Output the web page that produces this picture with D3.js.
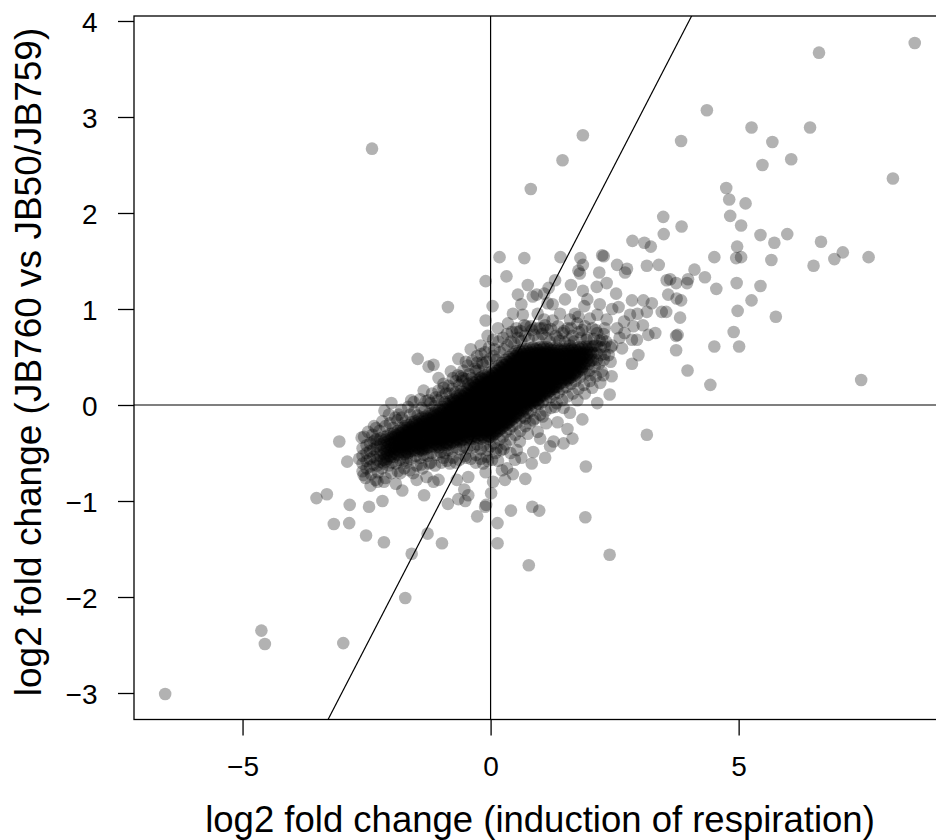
<!DOCTYPE html>
<html>
<head>
<meta charset="utf-8">
<script src="https://cdn.jsdelivr.net/npm/d3@7"></script>
<style>
  html, body { margin: 0; padding: 0; background: #fff; }
  svg { display: block; }
  text { font-family: "Liberation Sans", Arial, Helvetica, sans-serif; fill: #000; }
</style>
</head>
<body>
<svg id="chart" width="936" height="840"></svg>
<script>
// Genes in the dense central band: each row is [respiration log2FC, strain log2FC values...]
const coreBand = [
  [-2.58,-0.45,-0.53,-0.61,-0.69],
  [-2.50,-0.42,-0.50,-0.58,-0.66],
  [-2.43,-0.40,-0.48,-0.56,-0.64],
  [-2.36,-0.38,-0.46,-0.54,-0.62],
  [-2.29,-0.36,-0.43,-0.50,-0.57,-0.63],
  [-2.22,-0.35,-0.41,-0.47,-0.53,-0.59],
  [-2.15,-0.33,-0.39,-0.45,-0.51,-0.57,-0.61],
  [-2.08,-0.32,-0.38,-0.44,-0.50,-0.56],
  [-2.01,-0.30,-0.36,-0.42,-0.48,-0.54],
  [-1.94,-0.29,-0.34,-0.39,-0.44,-0.49,-0.54],
  [-1.87,-0.27,-0.32,-0.37,-0.42,-0.47,-0.52],
  [-1.80,-0.24,-0.29,-0.34,-0.39,-0.44,-0.49],
  [-1.73,-0.22,-0.27,-0.32,-0.37,-0.42,-0.47,-0.51],
  [-1.66,-0.21,-0.26,-0.31,-0.36,-0.41,-0.46,-0.50],
  [-1.59,-0.18,-0.23,-0.28,-0.33,-0.38,-0.43,-0.48],
  [-1.52,-0.17,-0.22,-0.27,-0.32,-0.37,-0.42,-0.47],
  [-1.45,-0.15,-0.20,-0.25,-0.30,-0.35,-0.40,-0.45,-0.48],
  [-1.38,-0.13,-0.18,-0.23,-0.28,-0.33,-0.38,-0.43,-0.47],
  [-1.31,-0.12,-0.17,-0.22,-0.27,-0.32,-0.37,-0.42,-0.46],
  [-1.24,-0.09,-0.14,-0.19,-0.24,-0.29,-0.34,-0.39,-0.44],
  [-1.17,-0.08,-0.13,-0.18,-0.23,-0.28,-0.33,-0.38,-0.43],
  [-1.10,-0.06,-0.11,-0.16,-0.21,-0.26,-0.31,-0.36,-0.41,-0.44],
  [-1.03,-0.04,-0.09,-0.14,-0.19,-0.24,-0.29,-0.34,-0.39,-0.44],
  [-0.96,-0.02,-0.07,-0.12,-0.17,-0.22,-0.27,-0.32,-0.37,-0.42],
  [-0.89,0.01,-0.04,-0.09,-0.14,-0.19,-0.24,-0.29,-0.34,-0.39,-0.42],
  [-0.82,0.04,-0.01,-0.06,-0.11,-0.16,-0.21,-0.26,-0.31,-0.36,-0.41],
  [-0.75,0.06,0.01,-0.04,-0.09,-0.14,-0.19,-0.24,-0.29,-0.34,-0.39],
  [-0.68,0.09,0.04,-0.01,-0.06,-0.11,-0.16,-0.21,-0.26,-0.31,-0.36,-0.38],
  [-0.61,0.11,0.06,0.01,-0.04,-0.09,-0.14,-0.19,-0.24,-0.29,-0.34,-0.38],
  [-0.54,0.14,0.09,0.04,-0.01,-0.06,-0.11,-0.16,-0.21,-0.26,-0.31,-0.36],
  [-0.47,0.17,0.12,0.07,0.02,-0.03,-0.08,-0.13,-0.18,-0.23,-0.28,-0.33,-0.36],
  [-0.40,0.20,0.15,0.10,0.05,0.00,-0.05,-0.10,-0.15,-0.20,-0.25,-0.30,-0.35],
  [-0.33,0.23,0.18,0.13,0.08,0.03,-0.02,-0.07,-0.12,-0.17,-0.22,-0.27,-0.32,-0.35],
  [-0.26,0.26,0.21,0.16,0.11,0.06,0.01,-0.04,-0.09,-0.14,-0.19,-0.24,-0.29,-0.34],
  [-0.19,0.29,0.24,0.19,0.14,0.09,0.04,-0.01,-0.06,-0.11,-0.16,-0.21,-0.26,-0.31,-0.35],
  [-0.12,0.31,0.26,0.21,0.16,0.11,0.06,0.01,-0.04,-0.09,-0.14,-0.19,-0.24,-0.29,-0.34],
  [-0.05,0.33,0.28,0.23,0.18,0.13,0.08,0.03,-0.02,-0.07,-0.12,-0.17,-0.22,-0.27,-0.32,-0.35],
  [0.02,0.35,0.30,0.25,0.20,0.15,0.10,0.05,0.00,-0.05,-0.10,-0.15,-0.20,-0.25,-0.30,-0.33],
  [0.09,0.38,0.33,0.28,0.23,0.18,0.13,0.08,0.03,-0.02,-0.07,-0.12,-0.17,-0.22,-0.27,-0.30],
  [0.16,0.41,0.36,0.31,0.26,0.21,0.16,0.11,0.06,0.01,-0.04,-0.09,-0.14,-0.19,-0.24,-0.27],
  [0.23,0.44,0.39,0.34,0.29,0.24,0.19,0.14,0.09,0.04,-0.01,-0.06,-0.11,-0.16,-0.21,-0.24],
  [0.30,0.47,0.42,0.37,0.32,0.27,0.22,0.17,0.12,0.07,0.02,-0.03,-0.08,-0.13,-0.18,-0.21],
  [0.37,0.50,0.45,0.40,0.35,0.30,0.25,0.20,0.15,0.10,0.05,0.00,-0.05,-0.10,-0.15,-0.18],
  [0.44,0.53,0.48,0.43,0.38,0.33,0.28,0.23,0.18,0.13,0.08,0.03,-0.02,-0.07,-0.12,-0.15],
  [0.51,0.56,0.51,0.46,0.41,0.36,0.31,0.26,0.21,0.16,0.11,0.06,0.01,-0.04,-0.09,-0.12],
  [0.58,0.57,0.52,0.47,0.42,0.37,0.32,0.27,0.22,0.17,0.12,0.07,0.02,-0.03,-0.08],
  [0.65,0.58,0.53,0.48,0.43,0.38,0.33,0.28,0.23,0.18,0.13,0.08,0.03,-0.02,-0.06],
  [0.72,0.58,0.53,0.48,0.43,0.38,0.33,0.28,0.23,0.18,0.13,0.08,0.03,-0.01,-0.04],
  [0.79,0.59,0.54,0.49,0.44,0.39,0.34,0.29,0.24,0.19,0.14,0.09,0.04,0.00],
  [0.86,0.60,0.55,0.50,0.45,0.40,0.35,0.30,0.25,0.20,0.15,0.10,0.05,0.02],
  [0.93,0.59,0.54,0.49,0.44,0.39,0.34,0.29,0.24,0.19,0.14,0.09,0.05],
  [1.00,0.60,0.55,0.50,0.45,0.40,0.35,0.30,0.25,0.20,0.15,0.10,0.08],
  [1.07,0.60,0.55,0.50,0.45,0.40,0.35,0.30,0.25,0.20,0.15,0.10],
  [1.14,0.60,0.55,0.50,0.45,0.40,0.35,0.30,0.25,0.20,0.15,0.12],
  [1.21,0.59,0.54,0.49,0.44,0.39,0.34,0.29,0.24,0.19,0.15],
  [1.28,0.59,0.54,0.49,0.44,0.39,0.34,0.29,0.24,0.19,0.17],
  [1.35,0.59,0.54,0.49,0.44,0.39,0.34,0.29,0.24,0.19],
  [1.42,0.58,0.53,0.48,0.43,0.38,0.33,0.28,0.23],
  [1.49,0.58,0.53,0.48,0.43,0.38,0.33,0.28,0.24],
  [1.56,0.58,0.53,0.48,0.43,0.38,0.33,0.28,0.26],
  [1.63,0.59,0.54,0.49,0.44,0.39,0.34,0.29],
  [1.70,0.59,0.54,0.49,0.44,0.39,0.34,0.31],
  [1.77,0.60,0.55,0.50,0.45,0.40,0.35],
  [1.84,0.60,0.55,0.50,0.45,0.40,0.37],
  [1.91,0.61,0.55,0.49,0.43],
  [1.98,0.61,0.55,0.49,0.43],
  [2.06,0.61,0.54,0.47],
  [2.14,0.62,0.54,0.47],
  [2.22,0.60,0.52],
  [2.30,0.61,0.53]
];

// The most crowded part of the band, between the rows above
const coreBandInner = [
  [-2.115,-0.36,-0.42,-0.48,-0.54,-0.59],
  [-2.045,-0.35,-0.41,-0.47,-0.53],
  [-1.975,-0.33,-0.39,-0.45,-0.51],
  [-1.905,-0.31,-0.36,-0.41,-0.46,-0.51],
  [-1.835,-0.29,-0.34,-0.39,-0.44,-0.49],
  [-1.765,-0.26,-0.31,-0.36,-0.41,-0.46],
  [-1.695,-0.24,-0.29,-0.34,-0.39,-0.44,-0.49],
  [-1.625,-0.23,-0.28,-0.33,-0.38,-0.43,-0.48],
  [-1.555,-0.20,-0.25,-0.30,-0.35,-0.40,-0.45],
  [-1.485,-0.19,-0.24,-0.29,-0.34,-0.39,-0.44],
  [-1.415,-0.17,-0.22,-0.27,-0.32,-0.37,-0.42,-0.46],
  [-1.345,-0.15,-0.20,-0.25,-0.30,-0.35,-0.40,-0.45],
  [-1.275,-0.14,-0.19,-0.24,-0.29,-0.34,-0.39,-0.44],
  [-1.205,-0.11,-0.16,-0.21,-0.26,-0.31,-0.36,-0.41],
  [-1.135,-0.10,-0.15,-0.20,-0.25,-0.30,-0.35,-0.40],
  [-1.065,-0.08,-0.13,-0.18,-0.23,-0.28,-0.33,-0.38,-0.42],
  [-0.995,-0.06,-0.11,-0.16,-0.21,-0.26,-0.31,-0.36,-0.41],
  [-0.925,-0.04,-0.09,-0.14,-0.19,-0.24,-0.29,-0.34,-0.39],
  [-0.855,-0.01,-0.06,-0.11,-0.16,-0.21,-0.26,-0.31,-0.36,-0.40],
  [-0.785,0.02,-0.03,-0.08,-0.13,-0.18,-0.23,-0.28,-0.33,-0.38],
  [-0.715,0.04,-0.01,-0.06,-0.11,-0.16,-0.21,-0.26,-0.31,-0.36],
  [-0.645,0.07,0.02,-0.03,-0.08,-0.13,-0.18,-0.23,-0.28,-0.33,-0.36],
  [-0.575,0.09,0.04,-0.01,-0.06,-0.11,-0.16,-0.21,-0.26,-0.31,-0.36],
  [-0.505,0.12,0.07,0.02,-0.03,-0.08,-0.13,-0.18,-0.23,-0.28,-0.33],
  [-0.435,0.15,0.10,0.05,0.00,-0.05,-0.10,-0.15,-0.20,-0.25,-0.30,-0.34],
  [-0.365,0.18,0.13,0.08,0.03,-0.02,-0.07,-0.12,-0.17,-0.22,-0.27,-0.32],
  [-0.295,0.21,0.16,0.11,0.06,0.01,-0.04,-0.09,-0.14,-0.19,-0.24,-0.29,-0.33],
  [-0.225,0.24,0.19,0.14,0.09,0.04,-0.01,-0.06,-0.11,-0.16,-0.21,-0.26,-0.31],
  [-0.155,0.27,0.22,0.17,0.12,0.07,0.02,-0.03,-0.08,-0.13,-0.18,-0.23,-0.28,-0.33],
  [-0.085,0.29,0.24,0.19,0.14,0.09,0.04,-0.01,-0.06,-0.11,-0.16,-0.21,-0.26,-0.31],
  [-0.015,0.31,0.26,0.21,0.16,0.11,0.06,0.01,-0.04,-0.09,-0.14,-0.19,-0.24,-0.29,-0.33],
  [0.055,0.33,0.28,0.23,0.18,0.13,0.08,0.03,-0.02,-0.07,-0.12,-0.17,-0.22,-0.27,-0.31],
  [0.125,0.36,0.31,0.26,0.21,0.16,0.11,0.06,0.01,-0.04,-0.09,-0.14,-0.19,-0.24,-0.28],
  [0.195,0.39,0.34,0.29,0.24,0.19,0.14,0.09,0.04,-0.01,-0.06,-0.11,-0.16,-0.21,-0.25],
  [0.265,0.42,0.37,0.32,0.27,0.22,0.17,0.12,0.07,0.02,-0.03,-0.08,-0.13,-0.18,-0.22],
  [0.335,0.45,0.40,0.35,0.30,0.25,0.20,0.15,0.10,0.05,0.00,-0.05,-0.10,-0.15,-0.19],
  [0.405,0.48,0.43,0.38,0.33,0.28,0.23,0.18,0.13,0.08,0.03,-0.02,-0.07,-0.12,-0.16],
  [0.475,0.51,0.46,0.41,0.36,0.31,0.26,0.21,0.16,0.11,0.06,0.01,-0.04,-0.09,-0.13],
  [0.545,0.54,0.49,0.44,0.39,0.34,0.29,0.24,0.19,0.14,0.09,0.04,-0.01,-0.06,-0.10],
  [0.615,0.55,0.50,0.45,0.40,0.35,0.30,0.25,0.20,0.15,0.10,0.05,0.00,-0.05],
  [0.685,0.56,0.51,0.46,0.41,0.36,0.31,0.26,0.21,0.16,0.11,0.06,0.01,-0.03],
  [0.755,0.56,0.51,0.46,0.41,0.36,0.31,0.26,0.21,0.16,0.11,0.06,0.01],
  [0.825,0.57,0.52,0.47,0.42,0.37,0.32,0.27,0.22,0.17,0.12,0.07,0.03],
  [0.895,0.58,0.53,0.48,0.43,0.38,0.33,0.28,0.23,0.18,0.13,0.08,0.04],
  [0.965,0.57,0.52,0.47,0.42,0.37,0.32,0.27,0.22,0.17,0.12,0.07],
  [1.035,0.58,0.53,0.48,0.43,0.38,0.33,0.28,0.23,0.18,0.13,0.10],
  [1.105,0.58,0.53,0.48,0.43,0.38,0.33,0.28,0.23,0.18,0.13],
  [1.175,0.58,0.53,0.48,0.43,0.38,0.33,0.28,0.23,0.18,0.14],
  [1.245,0.57,0.52,0.47,0.42,0.37,0.32,0.27,0.22,0.17],
  [1.315,0.57,0.52,0.47,0.42,0.37,0.32,0.27,0.22,0.19],
  [1.385,0.57,0.52,0.47,0.42,0.37,0.32,0.27,0.22],
  [1.455,0.56,0.51,0.46,0.41,0.36,0.31,0.26],
  [1.525,0.56,0.51,0.46,0.41,0.36,0.31,0.27],
  [1.595,0.56,0.51,0.46,0.41,0.36,0.31,0.28],
  [1.665,0.57,0.52,0.47,0.42,0.37,0.32],
  [1.735,0.57,0.52,0.47,0.42,0.37,0.33],
  [1.805,0.58,0.53,0.48,0.43,0.38],
  [1.875,0.58,0.53,0.48,0.43,0.40],
  [1.945,0.58,0.52,0.46],
  [2.020,0.58,0.52,0.46]
];

// Genes along the upper and lower rims of the band: [respiration log2FC, strain log2FC]
const bandRimGenes = [
  [-2.55,-0.33],[-2.47,-0.28],[-2.38,-0.31],[-2.31,-0.24],[-2.24,-0.27],[-2.12,-0.22],[-2.03,-0.19],
  [-1.97,-0.24],[-1.88,-0.16],[-1.79,-0.13],[-1.71,-0.17],[-1.62,-0.10],[-1.54,-0.07],[-1.47,-0.11],
  [-1.39,-0.03],[-1.33,-0.06],[-1.21,0.02],[-1.13,-0.01],[-1.06,0.05],[-0.98,0.09],[-0.92,0.03],
  [-0.83,0.12],[-0.77,0.17],[-0.71,0.13],[-0.63,0.21],[-0.57,0.25],[-0.49,0.27],[-0.43,0.32],
  [-0.38,0.28],[-0.31,0.38],[-0.24,0.36],[-0.17,0.44],[-0.08,0.45],[-0.02,0.48],[0.06,0.51],
  [0.12,0.47],[0.19,0.55],[0.27,0.58],[0.34,0.62],[0.41,0.66],[0.48,0.64],[0.55,0.70],[0.62,0.67],
  [0.70,0.72],[0.77,0.69],[0.88,0.73],[0.96,0.68],[1.04,0.74],[1.12,0.70],[1.19,0.66],[1.31,0.72],
  [1.39,0.67],[1.58,0.68],[1.68,0.66],[1.82,0.70],[1.93,0.68],[2.08,0.69],[2.20,0.67],[2.33,0.66],
  [2.42,0.60],[2.38,0.52],
  [-2.52,-0.76],[-2.41,-0.72],[-2.27,-0.70],[-2.19,-0.66],[-2.06,-0.63],[-1.99,-0.60],[-1.91,-0.61],
  [-1.83,-0.57],[-1.76,-0.58],[-1.68,-0.55],[-1.61,-0.56],[-1.51,-0.53],[-1.42,-0.55],[-1.35,-0.52],
  [-1.27,-0.53],[-1.19,-0.50],[-1.09,-0.52],[-1.01,-0.49],[-0.93,-0.50],[-0.86,-0.47],[-0.78,-0.48],
  [-0.70,-0.44],[-0.62,-0.46],[-0.55,-0.43],[-0.48,-0.45],[-0.41,-0.42],[-0.34,-0.44],[-0.27,-0.41],
  [-0.20,-0.46],[-0.14,-0.42],[-0.06,-0.47],[0.00,-0.43],[0.07,-0.40],[0.12,-0.45],[0.18,-0.36],
  [0.25,-0.33],[0.31,-0.28],[0.38,-0.25],[0.44,-0.22],[0.52,-0.19],[0.60,-0.14],[0.67,-0.12],
  [0.75,-0.08],[0.82,-0.06],[0.90,-0.02],[0.97,0.01],[1.05,0.03],[1.12,0.06],[1.20,0.08],[1.28,0.11],
  [1.37,0.13],[1.45,0.17],[1.53,0.19],[1.62,0.22],[1.71,0.25],[1.80,0.29],[1.89,0.33],[1.99,0.36],
  [2.10,0.40],[2.19,0.43],[2.28,0.47]
];

// Outer rim of the band, a little further out
const outerRimGenes = [
  [-2.35,-0.22],[-2.18,-0.17],[-2.05,-0.10],[-1.92,-0.13],[-1.80,-0.05],[-1.66,-0.02],[-1.55,0.03],
  [-1.42,0.06],[-1.30,0.04],[-1.18,0.12],[-1.05,0.15],[-0.95,0.22],[-0.85,0.20],[-0.76,0.28],
  [-0.66,0.31],[-0.55,0.36],[-0.46,0.41],[-0.37,0.46],[-0.27,0.44],[-0.19,0.53],[-0.11,0.55],
  [-0.03,0.60],[0.08,0.58],[0.16,0.66],[0.25,0.70],[0.33,0.74],[0.43,0.76],[0.52,0.80],[0.60,0.77],
  [0.72,0.82],[0.83,0.78],[0.99,0.80],[1.10,0.83],[1.22,0.79],[1.36,0.82],[1.48,0.77],[1.62,0.80],
  [1.78,0.76],[1.90,0.82],[2.12,0.78],[2.28,0.74],
  [-2.42,-0.84],[-2.28,-0.80],[-2.12,-0.76],[-2.00,-0.71],[-1.87,-0.69],[-1.74,-0.66],[-1.63,-0.68],
  [-1.49,-0.63],[-1.37,-0.66],[-1.24,-0.61],[-1.12,-0.63],[-0.99,-0.60],[-0.88,-0.58],[-0.76,-0.55],
  [-0.63,-0.57],[-0.52,-0.53],[-0.40,-0.56],[-0.29,-0.52],[-0.20,-0.56],[-0.08,-0.54],[0.03,-0.57],
  [0.10,-0.50],[0.21,-0.47],[0.30,-0.41],[0.40,-0.36],[0.50,-0.31],[0.60,-0.27],[0.70,-0.22],
  [0.79,-0.19],[0.90,-0.14],[1.00,-0.10],[1.11,-0.06],[1.22,-0.03],[1.33,0.02],[1.44,0.05],
  [1.55,0.09],[1.66,0.12],[1.77,0.17],[1.88,0.21],[2.00,0.25],[2.12,0.30],[2.24,0.35]
];

// Genes induced in both comparisons (upper-right branch)
const upperRightGenes = [
  [1.86,2.81],[1.45,2.55],[0.81,2.25],[3.48,1.96],[3.49,1.78],[2.86,1.71],[3.10,1.69],[3.23,1.65],
  [0.18,1.54],[0.68,1.53],[1.41,1.54],[1.81,1.53],[2.25,1.56],[2.28,1.55],[2.55,1.46],[3.39,1.46],
  [8.55,3.77],[6.62,3.67],[4.36,3.07],[5.26,2.89],[6.44,2.89],[3.84,2.75],[5.68,2.74],[6.06,2.56],
  [5.48,2.50],[8.11,2.36],[4.75,2.26],[4.81,2.14],[5.14,2.10],[4.83,1.97],[5.05,1.87],[3.85,1.86],
  [5.44,1.77],[5.98,1.78],[5.72,1.69],[6.66,1.70],[4.97,1.65],[7.10,1.59],[4.51,1.54],[5.05,1.54],
  [4.95,1.53],[5.66,1.51],[6.93,1.52],[7.62,1.54],[6.51,1.45],
  [3.62,1.31],[3.74,1.27],[3.96,1.27],[3.98,1.31],[4.11,1.41],[4.32,1.33],[4.55,1.21],[4.96,1.27],
  [5.44,1.24],[5.26,1.09],[4.98,0.98],[5.75,0.92],[3.58,1.15],[3.75,1.11],[3.84,1.09],[3.82,0.91],
  [3.74,0.72],[3.77,0.73],[3.74,0.57],[4.51,0.61],[4.90,0.76],[5.01,0.61],[3.97,0.36],[4.43,0.21],
  [7.47,0.26],[3.54,0.97],
  [1.86,1.46],[1.77,1.40],[1.80,1.37],[2.19,1.38],[2.75,1.42],[2.71,1.38],[3.15,1.45],[3.55,1.30],
  [1.86,1.19],[2.14,1.23],[2.34,1.27],[2.53,1.16],[2.34,0.89],[2.15,0.94],[1.89,1.03],[1.77,0.92],
  [1.60,0.89],[2.58,1.02],
  [2.85,1.09],[3.08,1.09],[3.25,1.06],[3.45,0.97],[3.15,0.97],[2.96,0.95],[2.81,0.94],[2.69,0.87],
  [2.88,0.82],[3.07,0.83],[3.32,0.75],[3.18,0.73],[2.95,0.68],[2.85,0.68],[2.98,0.52],[2.85,0.43],
  [2.65,0.59],[2.42,0.45],[2.27,0.31],[2.44,0.30],[2.21,0.23],[2.01,0.31],[2.40,0.11],[3.15,-0.31],
  [1.45,0.75],[1.55,0.80],[1.65,0.72],[1.75,0.85],[1.85,0.78],[1.95,0.70],[2.05,0.80],[2.15,0.75],
  [2.25,0.68],[1.70,0.95],[2.00,0.90],[1.35,0.70],[1.50,0.65],[1.60,0.62],
  [0.35,0.85],[0.45,0.95],[0.62,1.05],[0.75,1.25],[0.95,0.95],[1.05,0.80],[1.25,0.88],[1.25,1.05],
  [1.40,0.95],[1.50,1.10],[1.62,1.25],[1.30,1.30],[0.55,1.15],[1.95,1.10],[2.20,1.05],[2.45,1.00],
  [2.30,0.80],[2.55,0.80],[2.60,0.70],[2.45,0.62],[2.70,0.75],[2.10,0.62],[0.92,0.80],[1.15,0.78]
];

// Genes scattered just around the central band
const nearBandGenes = [
  [-0.10,1.29],[0.32,1.34],[-0.86,1.02],[0.04,1.03],[-0.06,0.72],[-1.47,0.48],[-1.25,0.40],[-1.15,0.42],
  [-0.95,0.18],[-0.59,0.30],[-0.56,0.28],[-0.27,0.51],[-0.36,0.24],[-0.21,0.28],
  [0.85,1.13],[0.93,1.15],[1.08,1.16],[1.17,1.22],[1.15,1.06],[0.65,0.94],[0.68,0.83],[0.53,0.76],
  [0.81,0.82],[1.08,0.89],
  [1.30,-0.02],[1.47,-0.03],[1.12,-0.19],[0.86,-0.16],[0.70,-0.14],[1.27,-0.38],[1.47,-0.40],[1.20,-0.43],
  [0.86,-0.49],[0.83,-0.61],[0.59,-0.38],[0.53,-0.47],[0.49,-0.57],[0.26,-0.46],[0.33,-0.66],[0.23,-0.68],
  [-0.15,-0.61],[-0.45,-0.75],[-0.68,-0.78],[-0.82,-0.61],[-1.05,-0.78],[-1.29,-0.75],[-1.49,-0.78],
  [-1.56,-0.71],[-1.82,-0.71],[1.92,-0.64],
  [-1.10,0.08],[-0.90,0.12],[-0.75,0.05],[-0.60,0.15],[-0.45,0.22],[-0.30,0.35],[-0.15,0.42],[-0.70,0.25],
  [-1.70,-0.60],[-1.40,-0.62],[-1.20,-0.60],[-0.95,-0.55],[-0.70,-0.60],[-0.50,-0.55],[-0.30,-0.60],
  [-0.10,-0.70],[0.05,-0.80],
  [0.95,-0.28],[1.05,-0.12],[1.35,-0.18],[1.60,-0.08],[1.75,0.05],[1.90,0.12],[2.05,0.18],[1.55,-0.25],
  [1.00,-0.35],[0.75,-0.30],[0.62,-0.55],[0.40,-0.50],[1.10,-0.55],[1.65,-0.35],[2.15,0.02],[1.85,-0.15],
  [0.45,-0.72],[0.15,-0.58],[-0.05,-0.58],[0.95,0.02],
  [-1.60,0.05],[-1.35,0.15],[-1.05,0.28],[-0.80,0.35],[-0.50,0.45],[-0.20,0.62],[0.05,0.68],[-0.40,0.58],
  [-0.65,0.48],[-1.25,0.05],[-1.85,-0.10],[-2.00,0.02],[0.15,0.80],[-0.10,0.88]
];

// Genes repressed in one or both comparisons (lower half) plus the lone upper-left gene
const lowerGenes = [
  [-2.39,2.67],
  [-2.14,-0.06],[-3.05,-0.38],[-2.60,-0.34],[-2.32,-0.36],[-2.89,-0.59],[-2.65,-0.56],[-2.56,-0.73],
  [-2.32,-0.78],[-3.30,-0.93],[-3.51,-0.97],[-2.84,-1.04],[-2.45,-1.06],[-2.18,-1.00],[-3.16,-1.24],
  [-2.85,-1.23],[-2.51,-1.36],[-2.15,-1.43],[-4.62,-2.35],[-4.55,-2.49],[-2.97,-2.48],[-6.56,-3.01],
  [-1.72,-2.01],[-2.15,-0.80],[-1.91,-0.82],[-1.78,-0.89],
  [-1.34,-0.94],[-1.15,-0.80],[-0.86,-1.03],[-0.53,-0.88],[-0.45,-0.94],[-0.51,-1.00],[-0.65,-0.98],
  [-0.27,-1.16],[-0.11,-1.06],[-0.09,-1.04],[0.01,-0.92],[-1.27,-1.34],[-0.98,-1.44],[-1.59,-1.55],
  [0.14,-1.23],[0.14,-1.44],[0.41,-1.10],[0.84,-1.06],[0.98,-1.10],[0.77,-1.67],[1.91,-1.17],
  [2.40,-1.56],[0.29,-0.78],[0.70,-0.77]
];

const xTicks = [-5, 0, 5];
const yTicks = [-3, -2, -1, 0, 1, 2, 3, 4];
const xTitle = "log2 fold change (induction of respiration)";
const yTitle = "log2 fold change (JB760 vs JB50/JB759)";

// Flatten everything into one list of points
const points = [];
[coreBand, coreBandInner].forEach(rows =>
  rows.forEach(row => row.slice(1).forEach(v => points.push([row[0], v]))));
[bandRimGenes, outerRimGenes, upperRightGenes, nearBandGenes, lowerGenes]
  .forEach(set => set.forEach(p => points.push(p)));

const svg = d3.select("#chart");
const plot = { left: 134, right: 946, top: 16, bottom: 719.5 };

const x = d3.scaleLinear().domain([-7.188, 9.18]).range([plot.left, plot.right]);
const y = d3.scaleLinear().domain([-3.276, 4.052]).range([plot.bottom, plot.top]);

svg.append("defs").append("clipPath").attr("id", "plotClip")
  .append("rect")
  .attr("x", plot.left).attr("y", plot.top)
  .attr("width", plot.right - plot.left).attr("height", plot.bottom - plot.top);

const inner = svg.append("g").attr("clip-path", "url(#plotClip)");

// scatter
inner.append("g").selectAll("circle")
  .data(points)
  .join("circle")
  .attr("cx", d => x(d[0]))
  .attr("cy", d => y(d[1]))
  .attr("r", 6.3)
  .attr("fill", "rgba(0,0,0,0.3)");

// reference lines: x = 0, y = 0 and identity
const [x0, x1] = x.domain();
const [y0, y1] = y.domain();
inner.append("line")
  .attr("x1", x(0)).attr("x2", x(0)).attr("y1", y(y0)).attr("y2", y(y1))
  .attr("stroke", "#000").attr("stroke-width", 1.2);
inner.append("line")
  .attr("x1", x(x0)).attr("x2", x(x1)).attr("y1", y(0)).attr("y2", y(0))
  .attr("stroke", "#000").attr("stroke-width", 1.2);
inner.append("line")
  .attr("x1", x(-4)).attr("x2", x(5)).attr("y1", y(-4)).attr("y2", y(5))
  .attr("stroke", "#000").attr("stroke-width", 1.2);

// frame
svg.append("rect")
  .attr("x", plot.left).attr("y", plot.top)
  .attr("width", plot.right - plot.left).attr("height", plot.bottom - plot.top)
  .attr("fill", "none").attr("stroke", "#000").attr("stroke-width", 1.3);

const fmt = d => (d < 0 ? "\u2212" + Math.abs(d) : String(d));

// x axis
const gx = svg.append("g").attr("transform", `translate(0,${plot.bottom})`)
  .call(d3.axisBottom(x).tickValues(xTicks).tickSize(16).tickFormat(fmt));
gx.select(".domain").remove();
gx.selectAll(".tick line").attr("stroke", "#000").attr("stroke-width", 1.3);
gx.selectAll(".tick text").attr("y", 56.5).attr("dy", null)
  .style("font-size", "28px").attr("fill", "#000");

// y axis
const gy = svg.append("g").attr("transform", `translate(${plot.left},0)`)
  .call(d3.axisLeft(y).tickValues(yTicks).tickSize(16).tickFormat(fmt));
gy.select(".domain").remove();
gy.selectAll(".tick line").attr("stroke", "#000").attr("stroke-width", 1.3);
gy.selectAll(".tick text").attr("x", -36.5).attr("dy", "0.36em")
  .style("font-size", "28px").attr("fill", "#000");

// titles
svg.append("text")
  .attr("x", (plot.left + plot.right) / 2).attr("y", 832)
  .attr("text-anchor", "middle").style("font-size", "36.5px")
  .text(xTitle);
svg.append("text")
  .attr("transform", "translate(41,362) rotate(-90)")
  .attr("text-anchor", "middle").style("font-size", "37px")
  .text(yTitle);
</script>
</body>
</html>
